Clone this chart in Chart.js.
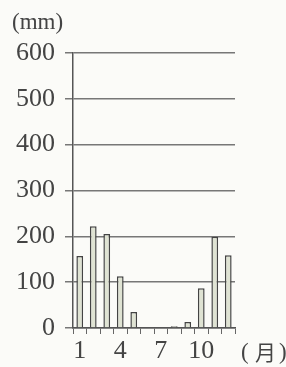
<!DOCTYPE html>
<html>
<head>
<meta charset="utf-8">
<script src="https://cdn.jsdelivr.net/npm/chart.js"></script>
<style>
  html, body { margin: 0; padding: 0; background: #fbfbf8; }
  #wrap { width: 286px; height: 367px; position: relative; }
</style>
</head>
<body>
<div id="wrap"><canvas id="rainChart"></canvas></div>
<script>
    // monthly precipitation (mm)
    var months = ['1', '2', '3', '4', '5', '6', '7', '8', '9', '10', '11', '12'];
    var rainfall = [157, 222, 205, 113, 35, 0, 0, 4, 13, 87, 199, 159];
    var yTicks = [0, 100, 200, 300, 400, 500, 600];
    var shownMonths = ['1', '4', '7', '10'];

    var numFont = "'Liberation Serif', 'DejaVu Serif', serif";
    var cjkFont = "'Liberation Serif', 'Noto Sans CJK JP', serif";

    // unit labels "(mm)" and "(月)"
    var unitLabels = {
        id: 'unitLabels',
        afterDraw: function(chart) {
            var c = chart.ctx;
            c.save();
            c.fillStyle = '#444';
            c.textBaseline = 'middle';
            c.textAlign = 'left';
            c.font = '23px ' + cjkFont;
            c.fillText('(mm)', 12, 23);
            c.fillText('(', 241, 353);
            c.fillText(')', 279, 353);
            c.font = '21px ' + cjkFont;
            c.fillText('月', 255, 354);
            c.restore();
        }
    };

    var ctx = document.getElementById('rainChart').getContext('2d');
    var chart = new Chart(ctx, {
        type: 'bar',
        data: {
            labels: months,
            datasets: [{
                data: rainfall,
                backgroundColor: '#dfe3d3',
                borderColor: '#444',
                borderWidth: 1.5,
                barPercentage: 0.5,
                categoryPercentage: 1
            }]
        },
        options: {
            responsive: true,
            maintainAspectRatio: false,
            animation: false,
            layout: { padding: { top: 53, right: 51, left: 0, bottom: 0 } },
            plugins: {
                legend: { display: false },
                tooltip: { enabled: false }
            },
            scales: {
                x: {
                    grid: {
                        offset: true,
                        drawOnChartArea: false,
                        drawTicks: true,
                        tickLength: 6,
                        color: '#666',
                        lineWidth: 1
                    },
                    border: { color: '#555', width: 1.5 },
                    ticks: {
                        autoSkip: false,
                        maxRotation: 0,
                        padding: 2,
                        color: '#444',
                        font: { size: 26, family: numFont },
                        callback: function(v, i) {
                            var lab = months[i];
                            return shownMonths.indexOf(lab) >= 0 ? lab : '';
                        }
                    },
                    afterFit: function(scale) { scale.height = 39; }
                },
                y: {
                    min: 0,
                    max: 600,
                    afterBuildTicks: function(scale) {
                        scale.ticks = yTicks.map(function(v) { return { value: v }; });
                    },
                    grid: {
                        color: '#777',
                        lineWidth: 1.5,
                        tickLength: 8
                    },
                    border: { color: '#555', width: 1.5 },
                    ticks: {
                        padding: 10,
                        color: '#444',
                        font: { size: 26, family: numFont }
                    },
                    afterFit: function(scale) { scale.width = 73; }
                }
            }
        },
        plugins: [unitLabels]
    });
</script>
</body>
</html>
